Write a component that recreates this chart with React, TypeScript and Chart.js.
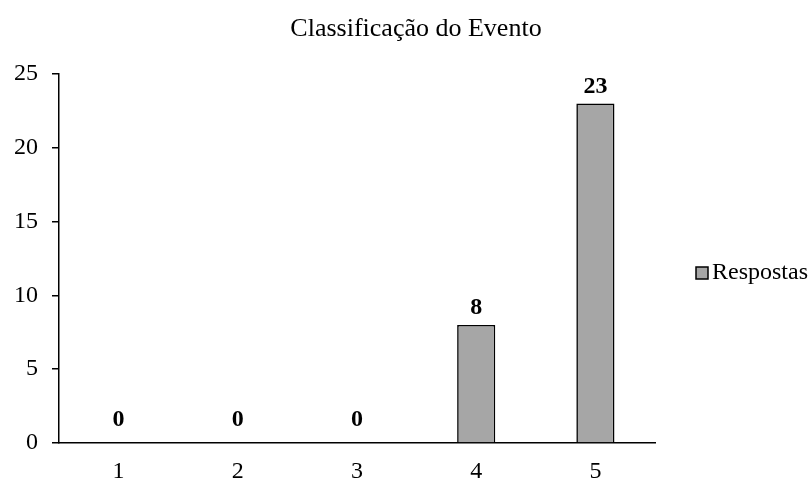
import React, { useEffect, useRef } from "react";
import { Chart, registerables } from "chart.js";

Chart.register(...registerables);

const title = "Classificação do Evento";
const categories = ["1", "2", "3", "4", "5"];
const seriesName = "Respostas";
const values = [0, 0, 0, 8, 23];
const yTicks = [0, 5, 10, 15, 20, 25];

const FONT = "'Liberation Serif', 'Times New Roman', serif";

const overlayPlugin = {
  id: "overlay",
  afterDatasetsDraw(chart: any) {
    const ctx = chart.ctx;
    const meta = chart.getDatasetMeta(0);
    ctx.save();
    ctx.fillStyle = "#000";
    ctx.font = `bold 24px ${FONT}`;
    ctx.textAlign = "center";
    ctx.textBaseline = "alphabetic";
    meta.data.forEach((el: any, i: number) => {
      const v = values[i];
      const off = v === 0 ? 17 : 11;
      ctx.fillText(String(v), el.x, el.y - off);
    });
    ctx.restore();
  },
  afterDraw(chart: any) {
    const ctx = chart.ctx;
    ctx.save();
    // title
    ctx.fillStyle = "#000";
    ctx.font = `26px ${FONT}`;
    ctx.textAlign = "center";
    ctx.textBaseline = "alphabetic";
    ctx.fillText(title, 416, 36);
    // legend
    ctx.fillStyle = "#a6a6a6";
    ctx.fillRect(696, 267, 12, 12);
    ctx.strokeStyle = "#000";
    ctx.lineWidth = 1.5;
    ctx.strokeRect(696, 267, 12, 12);
    ctx.fillStyle = "#000";
    ctx.font = `24px ${FONT}`;
    ctx.textAlign = "left";
    ctx.fillText(seriesName, 712, 279);
    ctx.restore();
  },
};

export default function App() {
  const ref = useRef<HTMLCanvasElement | null>(null);
  useEffect(() => {
    document.body.style.margin = "0";
    const chart = new Chart(ref.current as HTMLCanvasElement, {
      type: "bar",
      data: {
        labels: categories,
        datasets: [
          {
            label: seriesName,
            data: values,
            backgroundColor: "#a6a6a6",
            borderColor: "#000",
            borderWidth: 1.6,
            categoryPercentage: 1,
            barPercentage: 0.32,
          },
        ],
      },
      options: {
        animation: false,
        responsive: false,
        layout: { padding: { left: 0, right: 155, top: 74, bottom: 0 } },
        plugins: {
          legend: { display: false },
          title: { display: false },
          tooltip: { enabled: false },
        },
        scales: {
          x: {
            grid: { display: false, drawTicks: false },
            border: { display: true, color: "#000", width: 1.5 },
            ticks: { color: "#000", font: { family: FONT, size: 24 }, padding: 14 },
            afterFit(scale: any) {
              scale.height = 36;
            },
          },
          y: {
            min: 0,
            max: 25,
            afterBuildTicks(scale: any) {
              scale.ticks = yTicks.map((v) => ({ value: v }));
            },
            grid: {
              display: true,
              drawOnChartArea: false,
              drawTicks: true,
              tickLength: 7,
              color: "#000",
              lineWidth: 1.5,
            },
            border: { display: true, color: "#000", width: 1.5 },
            ticks: { color: "#000", font: { family: FONT, size: 24 }, padding: 14 },
            afterFit(scale: any) {
              scale.width = 59;
            },
          },
        },
      },
      plugins: [overlayPlugin],
    });
    return () => chart.destroy();
  }, []);
  return (
    <div style={{ width: 810, height: 479 }}>
      <canvas ref={ref} width={810} height={479} />
    </div>
  );
}
